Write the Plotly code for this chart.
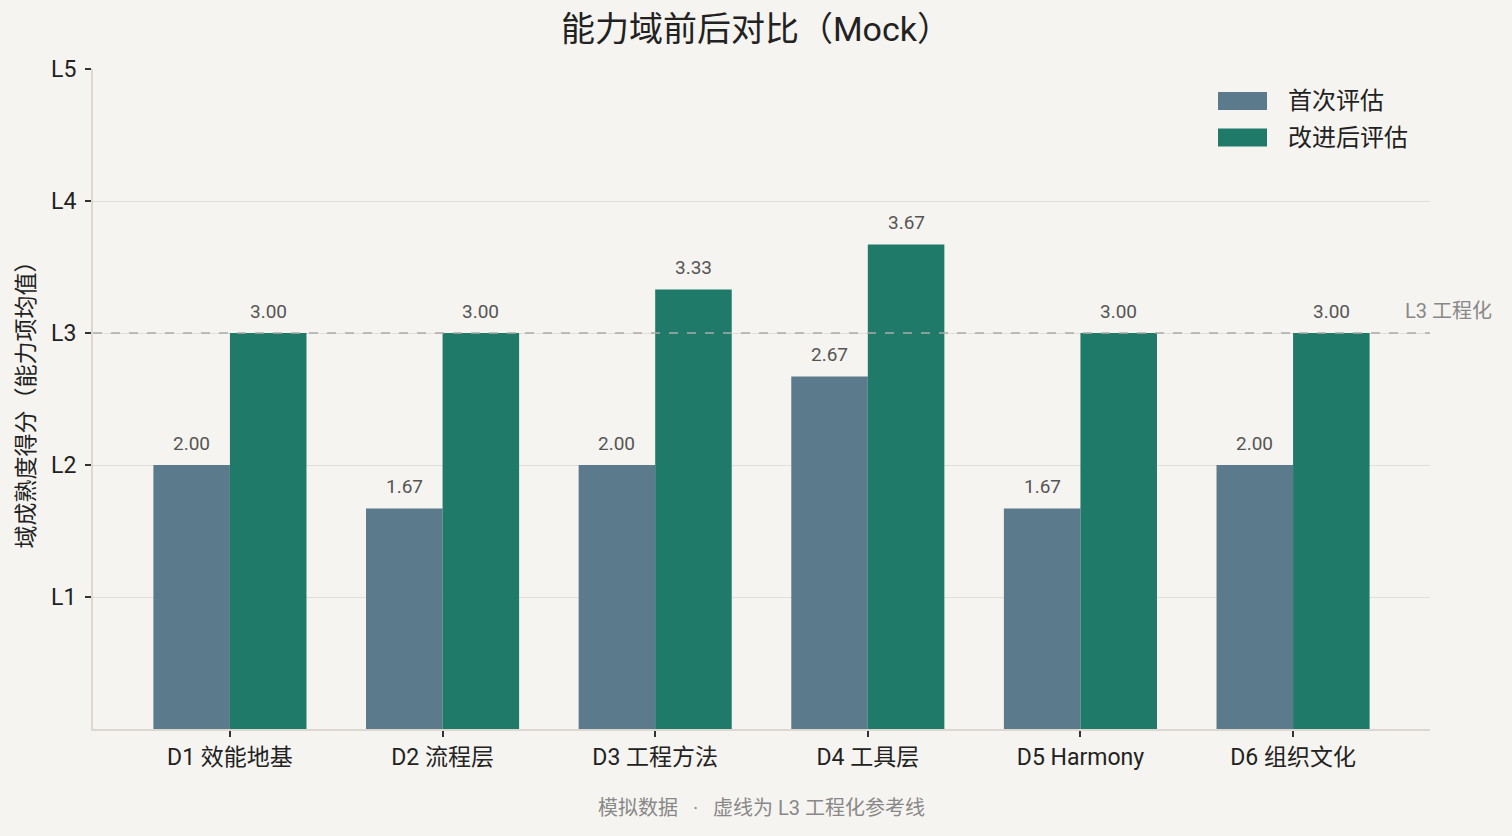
import plotly.graph_objects as go

categories = ["D1 效能地基", "D2 流程层", "D3 工程方法", "D4 工具层", "D5 Harmony", "D6 组织文化"]
first_scores = [2.00, 1.67, 2.00, 2.67, 1.67, 2.00]
after_scores = [3.00, 3.00, 3.33, 3.67, 3.00, 3.00]
series_names = ["首次评估", "改进后评估"]
level_vals = [1, 2, 3, 4, 5]
level_text = ["L1", "L2", "L3", "L4", "L5"]
ref_level = 3

FONT = "Roboto, Noto Sans CJK SC"
BG = "#f6f4f0"
C1 = "#5b7b8c"
C2 = "#1f7a6a"
AX = "#dcd7d0"

fig = go.Figure()
fig.add_bar(x=categories, y=first_scores, name=series_names[0], marker_color=C1, marker_line_width=0)
fig.add_bar(x=categories, y=after_scores, name=series_names[1], marker_color=C2, marker_line_width=0)

annotations = []
bw = 0.36
for i, (a, b) in enumerate(zip(first_scores, after_scores)):
    for off, v in ((-bw / 2, a), (bw / 2, b)):
        annotations.append(dict(x=i + off, y=v, xref="x", yref="y", text=f"{v:.2f}",
                                showarrow=False, yanchor="middle", yshift=22,
                                font=dict(family=FONT, size=19, color="#555555")))

annotations.append(dict(x=1.014, y=ref_level, xref="paper", yref="y", text="L3 工程化",
                        showarrow=False, xanchor="center", yanchor="middle", yshift=22,
                        font=dict(family=FONT, size=20, color="#888888")))
sep = "\u00a0\u00a0\u00a0·\u00a0\u00a0\u00a0"
annotations.append(dict(x=0.5, y=-(808 - 729) / 660, xref="paper", yref="paper", xanchor="center",
                        yanchor="middle", text="模拟数据" + sep + "虚线为 L3 工程化参考线", showarrow=False,
                        font=dict(family=FONT, size=20, color="#888888")))

shapes = [dict(type="line", xref="paper", yref="y", x0=0, x1=1, y0=ref_level, y1=ref_level,
               line=dict(color="#aaaaaa", width=1.5, dash="dash"), layer="above")]
leg_items = [(series_names[0], C1, 101), (series_names[1], C2, 137.5)]
for name, col, yc in leg_items:
    shapes.append(dict(type="rect", xref="paper", yref="paper",
                       x0=(1218 - 93) / 1337, x1=(1267 - 93) / 1337,
                       y0=(729 - (yc + 9)) / 660, y1=(729 - (yc - 9)) / 660,
                       fillcolor=col, line_width=0))
    annotations.append(dict(x=(1286 - 93) / 1337, y=(729 - yc) / 660, xref="paper", yref="paper",
                            text=name, showarrow=False, xanchor="left", yanchor="middle",
                            font=dict(family=FONT, size=24, color="#222222")))

fig.update_layout(
    width=1512, height=836,
    paper_bgcolor=BG, plot_bgcolor=BG,
    margin=dict(l=93, r=82, t=69, b=107),
    barmode="group", bargap=0.28, bargroupgap=0,
    showlegend=False,
    title=dict(text="能力域前后对比（Mock）", x=0.5, xanchor="center", y=1 - 29 / 836, yanchor="middle",
               font=dict(family=FONT, size=34, color="#222222")),
    font=dict(family=FONT, color="#222222"),
    annotations=annotations, shapes=shapes,
)
fig.update_xaxes(range=[-0.644, 5.644], showline=True, linecolor=AX, linewidth=2,
                 ticks="outside", ticklen=6, tickcolor="#333333", tickwidth=1.5,
                 tickfont=dict(family=FONT, size=23, color="#222222"), showgrid=False)
fig.update_yaxes(range=[0, 5], tickvals=level_vals, ticktext=level_text, showline=True, linecolor=AX,
                 linewidth=2, ticks="outside", ticklen=6, tickcolor="#333333", tickwidth=1.5,
                 gridcolor="#e2dfda", gridwidth=1, zeroline=False, ticklabelstandoff=4,
                 tickfont=dict(family=FONT, size=23, color="#222222"),
                 title=dict(text="域成熟度得分（能力项均值）", standoff=10,
                            font=dict(family=FONT, size=23, color="#222222")))

fig.write_html("out.html", config={"displayModeBar": False},
               post_script="document.body.style.margin='0';document.body.style.background='%s';" % BG)
